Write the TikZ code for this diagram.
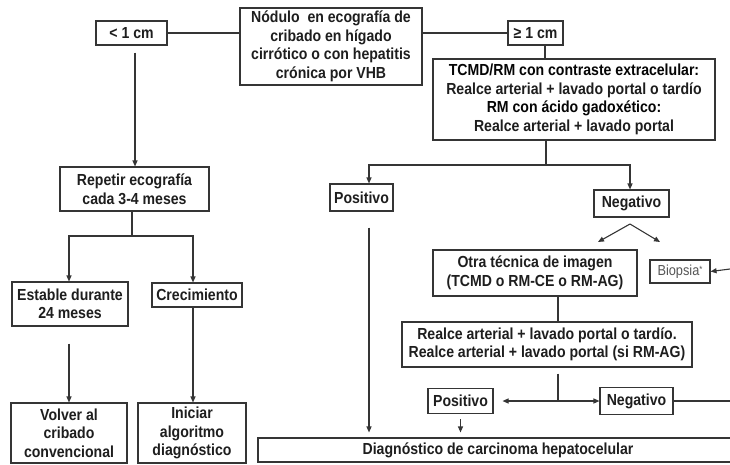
\documentclass[tikz,border=0pt]{standalone}
\usepackage{fontspec}
\setmainfont{Liberation Sans}[FakeStretch=0.88]
\usetikzlibrary{arrows.meta}
\definecolor{txt}{HTML}{1E1E1E}
\definecolor{hd}{HTML}{050505}
\definecolor{lc}{HTML}{353535}
\begin{document}
\begin{tikzpicture}[x=1pt,y=-1pt,
  box/.style={draw=lc, line width=1.1pt, fill=white, inner sep=0pt, align=center, text=txt,
    font=\fontsize{16}{18.5}\selectfont\bfseries},
  arr/.style={draw=lc, line width=1.1pt, -{Triangle[length=6pt,width=5pt]}},
  cline/.style={draw=lc, line width=1.1pt}]
\fill[white] (0,0) rectangle (730,464);
\useasboundingbox (0,0) rectangle (730,464);
\clip (0,0) rectangle (730,464);

% nodes
\node[box, minimum width=71pt, minimum height=24pt] (lt1) at (131.5,33) {< 1 cm};
\node[box, minimum width=182pt, minimum height=77pt] (top) at (331,46.5) {Nódulo \ en ecografía de\\cribado en hígado\\cirrótico o con hepatitis\\crónica por VHB};
\node[box, minimum width=55pt, minimum height=24pt] (ge1) at (535.5,33) {≥ 1 cm};
\node[box, minimum width=282pt, minimum height=81pt] (tcmd) at (574,99.5) {\textcolor{hd}{TCMD/RM con contraste extracelular:}\\Realce arterial + lavado portal o tardío\\\textcolor{hd}{RM con ácido gadoxético:}\\Realce arterial + lavado portal};
\node[box, minimum width=149pt, minimum height=44pt] (rep) at (134.5,189) {Repetir ecografía\\cada 3-4 meses};
\node[box, minimum width=63pt, minimum height=27pt] (pos1) at (361.5,197.5) {Positivo};
\node[box, minimum width=75pt, minimum height=27pt] (neg1) at (631.5,203.5) {Negativo};
\node[box, minimum width=204pt, minimum height=46pt] (otra) at (535,273) {Otra técnica de imagen\\(TCMD o RM-CE o RM-AG)};
\node[box, minimum width=60pt, minimum height=23pt, font=\fontsize{14.5}{16}\selectfont, text=txt!75] (bio) at (680,271.5) {Biopsia\raisebox{3pt}{\small *}};
\node[box, minimum width=116pt, minimum height=44pt] (est) at (70,304) {Estable durante\\24 meses};
\node[box, minimum width=90pt, minimum height=24pt] (cre) at (197,295) {Crecimiento};
\node[box, minimum width=290pt, minimum height=45pt] (realce) at (547,344.5) {Realce arterial + lavado portal o tardío.\\Realce arterial + lavado portal (si RM-AG)};
\node[box, minimum width=65pt, minimum height=25pt] (pos2) at (460.5,401) {Positivo};
\node[box, minimum width=73pt, minimum height=27pt] (neg2) at (636.5,401) {Negativo};
\node[box, minimum width=116pt, minimum height=60pt] (vol) at (69,433) {Volver al\\cribado\\convencional};
\node[box, minimum width=108pt, minimum height=60pt] (ini) at (192,433) {Iniciar\\algoritmo\\diagnóstico};
\node[box, minimum width=480pt, minimum height=24pt] (diag) at (498,450) {Diagnóstico de carcinoma hepatocelular};

% helper coordinates
\coordinate (s1) at (546,165);
\coordinate (s2) at (558,401);
\coordinate (s3) at (132,236);
\coordinate (redge1) at (730,269);
\coordinate (redge2) at (730,401);
\coordinate (apex) at (630,224);
\coordinate (dl) at (598,242);
\coordinate (dr) at (660,242);

% connectors
\draw[cline] (lt1.east) -- (lt1.east -| top.west);
\draw[cline] (top.east |- ge1.west) -- (ge1.west);
\draw[cline] ([xshift=9.5pt]ge1.south) -- ([xshift=9.5pt]ge1.south |- tcmd.north);
\draw[arr] ([xshift=3.5pt,yshift=-7pt]lt1.south) -- ([xshift=3.5pt]lt1.south |- rep.north);

\draw[cline] (s1 |- tcmd.south) -- (s1);
\draw[arr] (s1) -| ([xshift=7.5pt]pos1.north);
\draw[arr] (s1) -| ([xshift=-1.5pt]neg1.north);
\draw[arr] ([xshift=7.5pt,yshift=-16pt]pos1.south) -- ([xshift=7.5pt,yshift=5pt]pos1.south |- diag.north);

\draw[arr] (apex) -- (dl);
\draw[arr] (apex) -- (dr);
\draw[arr] (redge1) -- (bio.east);

\draw[cline] ([xshift=23pt]otra.south) -- ([xshift=23pt]otra.south |- realce.north);
\draw[cline] ([yshift=-6pt]s2 |- realce.south) -- (s2);
\draw[arr] (s2) -- ([xshift=9pt]pos2.east);
\draw[arr] (s2) -- (neg2.west);
\draw[cline] (neg2.east) -- (redge2);
\draw[arr] ([yshift=-5pt]pos2.south) -- ([yshift=5pt]pos2.south |- diag.north);

\draw[cline] (s3 |- rep.south) -- (s3);
\draw[arr] (s3) -| ([xshift=-1pt]est.north);
\draw[arr] (s3) -| ([xshift=-4pt]cre.north);
\draw[arr] ([xshift=-1pt,yshift=-17pt]est.south) -- ([xshift=-1pt]est.south |- vol.north);
\draw[arr] ([xshift=-4pt]cre.south) -- ([xshift=-4pt]cre.south |- ini.north);
\end{tikzpicture}
\end{document}
